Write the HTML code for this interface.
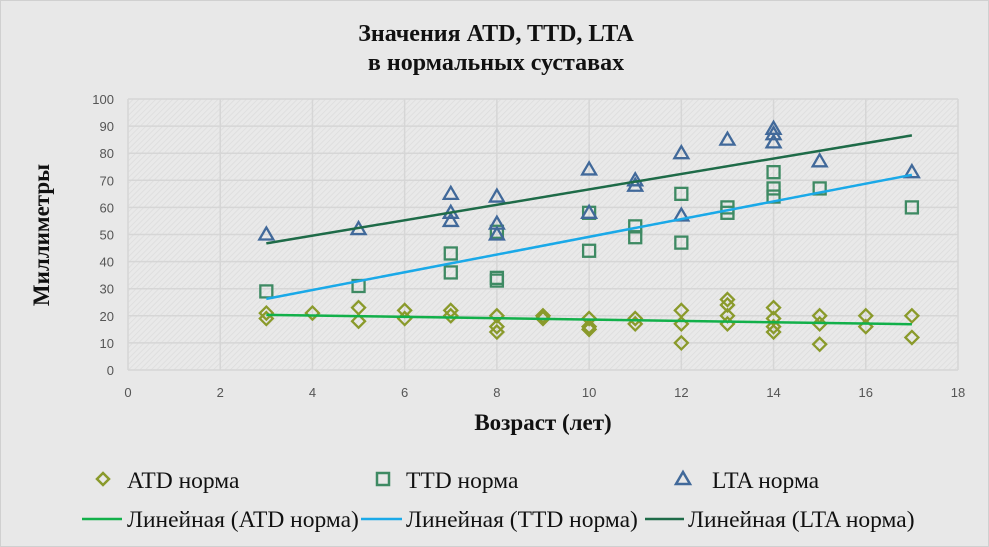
<!DOCTYPE html>
<html><head><meta charset="utf-8"><style>
body{margin:0;background:#fff}
svg{display:block}
</style></head><body>
<svg id="chart" width="989" height="547" xmlns="http://www.w3.org/2000/svg">
<defs>
<pattern id="hatch" width="4" height="4" patternUnits="userSpaceOnUse" patternTransform="rotate(45)">
<rect width="4" height="4" fill="#e9e9e9"/><line x1="0" y1="0" x2="0" y2="4" stroke="#dcdcdc" stroke-width="1.5"/>
</pattern>
</defs>
<rect x="0.5" y="0.5" width="988" height="546" fill="#e8e8e8" stroke="#d0d0d0"/>
<rect x="128" y="99" width="830" height="271" fill="url(#hatch)"/>
<g id="grid"></g>
<g id="marks"></g>
<text x="496" y="41" text-anchor="middle" font-family="Liberation Serif, serif" font-weight="bold" font-size="24" fill="#111">Значения ATD, TTD, LTA</text>
<text x="496" y="70" text-anchor="middle" font-family="Liberation Serif, serif" font-weight="bold" font-size="24" fill="#111">в нормальных суставах</text>
<text transform="translate(49,235) rotate(-90)" text-anchor="middle" font-family="Liberation Serif, serif" font-weight="bold" font-size="23" fill="#111">Миллиметры</text>
<text x="543" y="430" text-anchor="middle" font-family="Liberation Serif, serif" font-weight="bold" font-size="23" fill="#111">Возраст (лет)</text>
<g font-family="Liberation Serif, serif" font-size="23.5" fill="#111">
<g><path d="M103,473 l6,6 l-6,6 l-6,-6z" fill="none" stroke="#8a9a2b" stroke-width="2.5"/><text x="127" y="488">ATD норма</text></g>
<g><rect x="377" y="473" width="12" height="12" fill="none" stroke="#3e8a63" stroke-width="2.5"/><text x="406" y="488">TTD норма</text></g>
<g><path d="M683,472 l7,12 h-14z" fill="none" stroke="#41699a" stroke-width="2.5"/><text x="712" y="488">LTA норма</text></g>
<g><line x1="82" y1="519" x2="122" y2="519" stroke="#12b04a" stroke-width="2.5"/><text x="127" y="527">Линейная (ATD норма)</text></g>
<g><line x1="361" y1="519" x2="402" y2="519" stroke="#1aa9e8" stroke-width="2.5"/><text x="406" y="527">Линейная (TTD норма)</text></g>
<g><line x1="645" y1="519" x2="684" y2="519" stroke="#1e6b48" stroke-width="2.5"/><text x="688" y="527">Линейная (LTA норма)</text></g>
</g>
</svg>
<script>
const xTicks=[0,2,4,6,8,10,12,14,16,18];
const yTicks=[0,10,20,30,40,50,60,70,80,90,100];
const atdX=[3,3,4,5,5,6,6,7,7,8,8,8,9,9,10,10,10,11,11,12,12,12,13,13,13,13,14,14,14,14,15,15,15,16,16,17,17];
const atdY=[21,19,21,23,18,22,19,22,20,20,16,14,20,19,19,16,15,19,17,22,17,10,26,24,20,17,23,19,16,14,20,17,9.5,20,16,20,12];
const ttdX=[3,5,7,7,8,8,8,10,10,11,11,12,12,13,13,14,14,14,15,17];
const ttdY=[29,31,43,36,51,34,33,58,44,53,49,65,47,60,58,73,67,64,67,60];
const ltaX=[3,5,7,7,7,8,8,8,10,10,11,11,12,12,13,14,14,14,15,17];
const ltaY=[50,52,65,58,55,64,54,50,74,58,70,68,80,57,85,89,87,84,77,73];
const NS='http://www.w3.org/2000/svg';
const sx=v=>128+v*(830/18), sy=v=>370-v*2.71;
const grid=document.getElementById('grid'), marks=document.getElementById('marks');
function mk(tag,attrs,parent){const e=document.createElementNS(NS,tag);for(const k in attrs)e.setAttribute(k,attrs[k]);parent.appendChild(e);return e;}
yTicks.forEach(t=>{
  const l=mk('line',{x1:128,x2:958,y1:sy(t),y2:sy(t),stroke:'#d6d6d6','stroke-width':1.5},grid);
  
  
  const tx=mk('text',{x:114,y:sy(t)+5,'text-anchor':'end','font-family':'Liberation Sans, sans-serif','font-size':13,fill:'#555'},grid);
  tx.textContent=t;
  
  
});
xTicks.forEach(t=>{
  const l=mk('line',{x1:sx(t),x2:sx(t),y1:99,y2:370,stroke:'#d6d6d6','stroke-width':1.5},grid);
  
  
  const tx=mk('text',{x:sx(t),y:397,'text-anchor':'middle','font-family':'Liberation Sans, sans-serif','font-size':13,fill:'#555'},grid);
  tx.textContent=t;
  
  
});
function trend(xs,ys,color,name){
  const n=xs.length;let mx=0,my=0;for(let i=0;i<n;i++){mx+=xs[i];my+=ys[i];}mx/=n;my/=n;
  let num=0,den=0;for(let i=0;i<n;i++){num+=(xs[i]-mx)*(ys[i]-my);den+=(xs[i]-mx)**2;}
  const b=num/den,a=my-b*mx;const x0=Math.min(...xs),x1=Math.max(...xs);
  const l=mk('line',{x1:sx(x0),y1:sy(a+b*x0),x2:sx(x1),y2:sy(a+b*x1),stroke:color,'stroke-width':2.5},marks);
  
  
}
atdX.forEach((x,i)=>{const cx=sx(x),cy=sy(atdY[i]);
  const p=mk('path',{d:`M${cx},${cy-6.5} l6.5,6.5 l-6.5,6.5 l-6.5,-6.5z`,fill:'none',stroke:'#8a9a2b','stroke-width':2.3},marks);
  
  });
ttdX.forEach((x,i)=>{const cx=sx(x),cy=sy(ttdY[i]);
  const p=mk('rect',{x:cx-6,y:cy-6,width:12,height:12,fill:'none',stroke:'#3e8a63','stroke-width':2.3},marks);
  
  });
ltaX.forEach((x,i)=>{const cx=sx(x),cy=sy(ltaY[i]);
  const p=mk('path',{d:`M${cx},${cy-7} l7,12 h-14z`,fill:'none',stroke:'#41699a','stroke-width':2.3},marks);
  
  });
trend(atdX,atdY,'#12b04a','atd-trendline');
trend(ttdX,ttdY,'#1aa9e8','ttd-trendline');
trend(ltaX,ltaY,'#1e6b48','lta-trendline');
</script>
</body></html>
